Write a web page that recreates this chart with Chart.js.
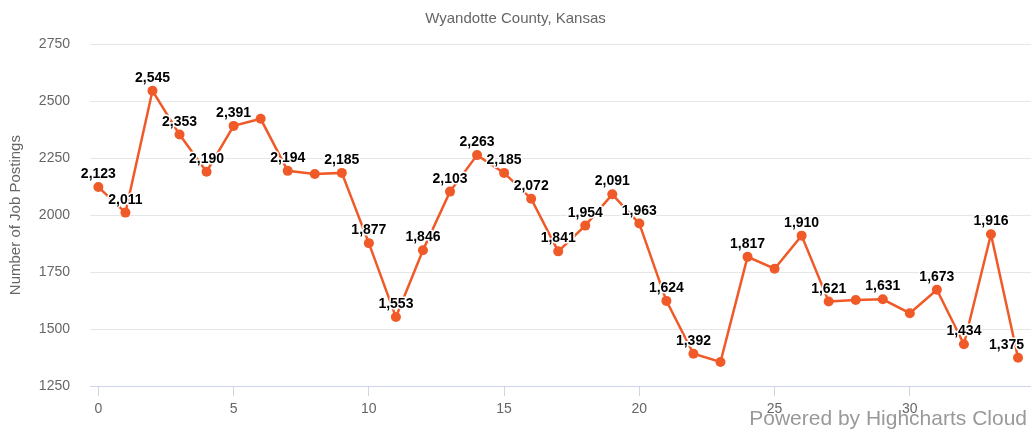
<!DOCTYPE html>
<html>
<head>
<meta charset="utf-8">
<script src="https://cdn.jsdelivr.net/npm/chart.js@4/dist/chart.umd.min.js"></script>
<style>
  html, body { margin: 0; padding: 0; background: #fff; }
  #wrap { width: 1031px; height: 430px; position: relative; }
</style>
</head>
<body>
<div id="wrap"><canvas id="postingsChart"></canvas></div>
<script>
// Job postings, Wyandotte County

const months = [0, 1, 2, 3, 4, 5, 6, 7, 8, 9, 10, 11, 12, 13, 14, 15, 16, 17,
  18, 19, 20, 21, 22, 23, 24, 25, 26, 27, 28, 29, 30, 31, 32, 33, 34];
const postings = [2123, 2011, 2545, 2353, 2190, 2391, 2422, 2194, 2180, 2185,
  1877, 1553, 1846, 2103, 2263, 2185, 2072, 1841, 1954, 2091, 1963, 1624,
  1392, 1356, 1817, 1765, 1910, 1621, 1628, 1631, 1570, 1673, 1434, 1916, 1375];
// labels that Highcharts dropped because they overlapped
const hiddenLabels = [6, 8, 23, 25, 28, 30];
const xTicks = [0, 5, 10, 15, 20, 25, 30];
const yTicks = [1250, 1500, 1750, 2000, 2250, 2500, 2750];

const FONT = '"Liberation Sans", Arial, Helvetica, sans-serif';
const ORANGE = '#f05a28';

const pointLabels = {
  id: 'pointLabels',
  afterDatasetsDraw(chart) {
    const ctx = chart.ctx;
    const meta = chart.getDatasetMeta(0);
    ctx.save();
    ctx.font = 'bold 14px ' + FONT;
    ctx.textAlign = 'center';
    ctx.textBaseline = 'alphabetic';
    ctx.lineJoin = 'round';
    meta.data.forEach((pt, i) => {
      if (hiddenLabels.includes(i)) return;
      const txt = postings[i].toLocaleString('en-US');
      const w = ctx.measureText(txt).width;
      const x = Math.min(pt.x, chart.width - 7 - w / 2);
      const y = pt.y - 9;
      ctx.strokeStyle = '#fff';
      ctx.lineWidth = 3;
      ctx.strokeText(txt, x, y);
      ctx.fillStyle = '#000';
      ctx.fillText(txt, x, y);
    });
    ctx.restore();
  }
};

const credits = {
  id: 'credits',
  afterDraw(chart) {
    const ctx = chart.ctx;
    ctx.save();
    ctx.font = '21px ' + FONT;
    ctx.fillStyle = '#999';
    ctx.textAlign = 'right';
    ctx.textBaseline = 'alphabetic';
    ctx.fillText('Powered by Highcharts Cloud', chart.width - 4, 425);
    ctx.restore();
  }
};

const points = months.map((m, i) => ({ x: m, y: postings[i] }));

new Chart(document.getElementById('postingsChart'), {
  type: 'line',
  data: {
    datasets: [{
      data: points,
      borderColor: ORANGE,
      backgroundColor: ORANGE,
      borderWidth: 2.5,
      pointRadius: 5,
      pointHoverRadius: 5,
      pointBorderWidth: 0,
      pointBackgroundColor: ORANGE,
      tension: 0,
      clip: false
    }]
  },
  options: {
    responsive: true,
    maintainAspectRatio: false,
    animation: false,
    layout: { autoPadding: false, padding: { left: 0, right: 0, top: 0, bottom: 7 } },
    plugins: {
      legend: { display: false },
      tooltip: { enabled: false },
      title: {
        display: true,
        text: 'Wyandotte County, Kansas',
        color: '#666',
        font: { family: FONT, size: 15, weight: 'normal', lineHeight: 1.2 },
        padding: { top: 10, bottom: 16 }
      }
    },
    scales: {
      x: {
        type: 'linear',
        min: -0.31,
        max: 34.48,
        afterBuildTicks(scale) {
          scale.ticks = xTicks.map(v => ({ value: v }));
        },
        afterFit(scale) {
          scale.paddingLeft = 0;
          scale.paddingRight = 0;
        },
        ticks: {
          color: '#666',
          font: { family: FONT, size: 14 },
          padding: 5,
          maxRotation: 0,
          callback: v => String(v)
        },
        grid: {
          drawOnChartArea: false,
          drawTicks: true,
          tickLength: 10,
          color: '#ccd6eb'
        },
        border: { display: true, color: '#ccd6eb', width: 1 }
      },
      y: {
        min: 1250,
        max: 2750,
        afterBuildTicks(scale) {
          scale.ticks = yTicks.map(v => ({ value: v }));
        },
        afterFit(scale) {
          scale.width = 90;
        },
        ticks: {
          color: '#666',
          font: { family: FONT, size: 14 },
          padding: 20,
          callback: v => String(v)
        },
        grid: {
          color: '#e6e6e6',
          drawTicks: false
        },
        border: { display: false },
        title: {
          display: true,
          text: 'Number of Job Postings',
          color: '#666',
          font: { family: FONT, size: 15 },
          padding: { top: 7, bottom: 0 }
        }
      }
    }
  },
  plugins: [pointLabels, credits]
});
</script>
</body>
</html>
